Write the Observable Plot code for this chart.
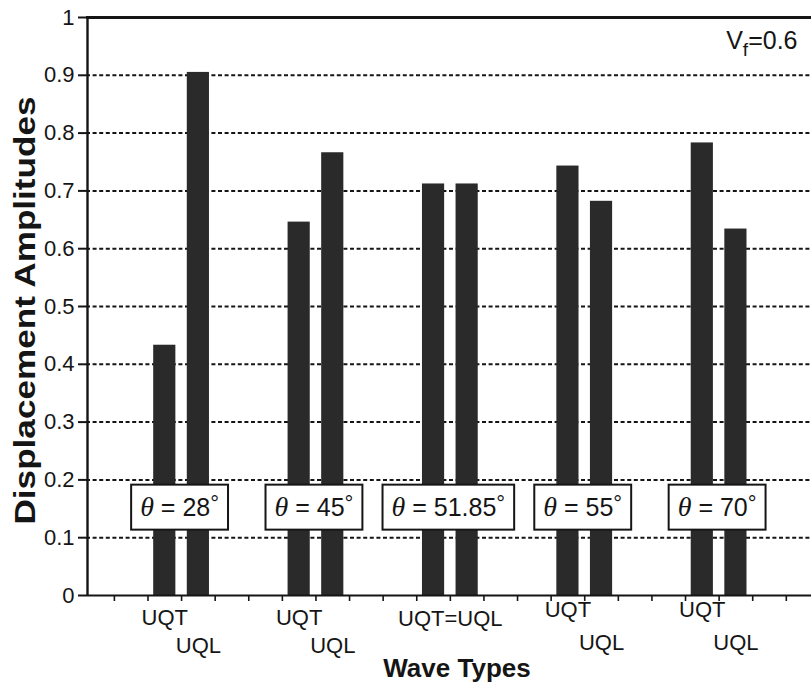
<!DOCTYPE html>
<html><head><meta charset="utf-8">
<script src="https://cdn.jsdelivr.net/npm/d3@7"></script>
<script src="https://cdn.jsdelivr.net/npm/@observablehq/plot@0.6"></script>
<style>
html,body{margin:0;padding:0;background:#fff;}
#chart svg{display:block;}
#chart svg g[aria-label^="y-axis"] text{font-size:22px;fill:#151515;}
</style>
</head><body>
<div id="chart"></div>
<script>
// ---- data ----
const angles = ["28", "45", "51.85", "55", "70"];
const uqt = [0.433, 0.646, 0.712, 0.743, 0.783];
const uql = [0.905, 0.766, 0.712, 0.682, 0.634];
const waveTypes = ["UQT", "UQL"];
const yTicks = [0, 0.1, 0.2, 0.3, 0.4, 0.5, 0.6, 0.7, 0.8, 0.9, 1];
const gridValues = [0.1, 0.2, 0.3, 0.4, 0.5, 0.6, 0.7, 0.8, 0.9];
const xTicks = d3.range(2, 23);
const yTitle = "Displacement Amplitudes";
const xTitle = "Wave Types";
const vfText = ["V", "f", "=0.6"];

const FONT = "'Liberation Sans', Arial, Helvetica, sans-serif";
const INK = "#151515";

// ---- derived tables ----
const groupPos = i => 4 + 4 * i;
const bars = [];
angles.forEach((a, i) => {
  bars.push({angle: a, type: waveTypes[0], value: uqt[i], pos: groupPos(i) - 0.5});
  bars.push({angle: a, type: waveTypes[1], value: uql[i], pos: groupPos(i) + 0.5});
});
const labels = [];
angles.forEach((a, i) => {
  if (uqt[i] === uql[i]) {
    labels.push({text: waveTypes.join("="), pos: groupPos(i), dy: 23});
  } else {
    const early = i < 2;
    labels.push({text: waveTypes[0], pos: groupPos(i) - 0.5, dy: early ? 22 : 14});
    labels.push({text: waveTypes[1], pos: groupPos(i) + 0.5, dy: early ? 50 : 47});
  }
});
const boxes = angles.map((a, i) => ({text: a, pos: groupPos(i)}));

const chart = Plot.plot({
  width: 811,
  height: 686,
  marginLeft: 86,
  marginRight: 0,
  marginTop: 17,
  marginBottom: 91,
  style: {fontFamily: FONT, fontSize: "22px", color: INK, background: "#fff"},
  x: {domain: [1.17, 22.75], ticks: xTicks, tickFormat: () => "", tickSize: 6, label: null},
  y: {domain: [0, 1], ticks: yTicks, tickFormat: d => String(+d.toFixed(1)), tickSize: 8, tickPadding: 4, label: null},
  marks: [
    Plot.ruleY(gridValues, {stroke: INK, strokeWidth: 2, strokeDasharray: "4,2.6"}),
    Plot.rect(bars, {x1: d => d.pos - 0.33, x2: d => d.pos + 0.33, y1: 0, y2: "value", fill: "#2a2a2a"}),
    Plot.ruleY([1], {stroke: INK, strokeWidth: 3.2}),
    Plot.ruleY([0], {stroke: INK, strokeWidth: 2}),
    Plot.ruleX([1.17], {stroke: INK, strokeWidth: 2.4, dx: 1}),
    // text marks, in this order: boxes, wave labels, y title, x title, Vf
    Plot.text(boxes, {x: "pos", y: 0.152, text: d => d.text, fontSize: 25, dx: -2, lineAnchor: "middle", fill: INK}),
    Plot.text(labels, {x: "pos", y: 0, text: "text", fontSize: 22, lineAnchor: "middle", fill: INK}),
    Plot.text([yTitle], {frameAnchor: "left", rotate: -90, dx: -61, dy: 4, fontSize: 30, fontWeight: "bold", fill: INK}),
    Plot.text([xTitle], {frameAnchor: "bottom", dx: 8, dy: 73, lineAnchor: "middle", fontSize: 26, fontWeight: "bold", fill: INK}),
    Plot.text([vfText.join("")], {frameAnchor: "top-right", dx: -14, dy: 23, textAnchor: "end", lineAnchor: "middle", fontSize: 25, fill: INK})
  ]
});
document.getElementById("chart").appendChild(chart);

const SVGNS = "http://www.w3.org/2000/svg";
const mk = (tag, attrs) => { const e = document.createElementNS(SVGNS, tag); for (const k in attrs) e.setAttribute(k, attrs[k]); return e; };

// axis tick styling
chart.querySelectorAll('g[aria-label="x-axis tick"], g[aria-label="x-axis tick"] path').forEach(p => { p.setAttribute("stroke-width", "1.6"); p.setAttribute("stroke", INK); });
chart.querySelectorAll('g[aria-label="y-axis tick"], g[aria-label="y-axis tick"] path').forEach(p => { p.setAttribute("stroke-width", "2"); p.setAttribute("stroke", INK); });

const textGroups = chart.querySelectorAll('g[aria-label="text"]');
const [gBoxes, gLabels, gYTitle, gXTitle, gVf] = textGroups;

// wave labels vertical offsets
gLabels.querySelectorAll("text").forEach((t, i) => {
  const tr = t.getAttribute("transform");
  t.setAttribute("transform", (tr ? tr + " " : "") + `translate(0,${labels[i].dy})`);
});

// angle boxes: theta italic, degree sign, frame
gBoxes.querySelectorAll("text").forEach((t, i) => {
  t.textContent = "";
  const th = mk("tspan", {"font-family": "'Liberation Serif', 'Times New Roman', serif", "font-style": "italic", "font-size": "28"});
  th.textContent = "\u03B8";
  const eq = mk("tspan", {});
  eq.textContent = " = " + boxes[i].text;
  const deg = mk("tspan", {dy: "-5", "font-size": "22"});
  deg.textContent = "\u00B0";
  t.append(th, eq, deg);
  const bb = t.getBBox();
  const r = mk("rect", {x: bb.x - 9, y: bb.y + bb.height / 2 - 22.5 + 1, width: bb.width + 18, height: 45, fill: "#fff", stroke: INK, "stroke-width": 2});
  const tr = t.getAttribute("transform");
  if (tr) r.setAttribute("transform", tr);
  t.parentNode.insertBefore(r, t);
});

// y title: stretch to the reference length, anchored from its start
const TITLE_LEN = 428;
gYTitle.querySelectorAll("text").forEach(t => {
  t.setAttribute("text-anchor", "start");
  t.setAttribute("x", String(-TITLE_LEN / 2));
  t.setAttribute("textLength", String(TITLE_LEN));
  t.setAttribute("lengthAdjust", "spacingAndGlyphs");
});

// V_f subscript
gVf.querySelectorAll("text").forEach(t => {
  t.textContent = "";
  const a = mk("tspan", {}); a.textContent = vfText[0];
  const b = mk("tspan", {dy: "7", "font-size": "19"}); b.textContent = vfText[1];
  const c = mk("tspan", {dy: "-7"}); c.textContent = vfText[2];
  t.append(a, b, c);
});
</script>
</body></html>
